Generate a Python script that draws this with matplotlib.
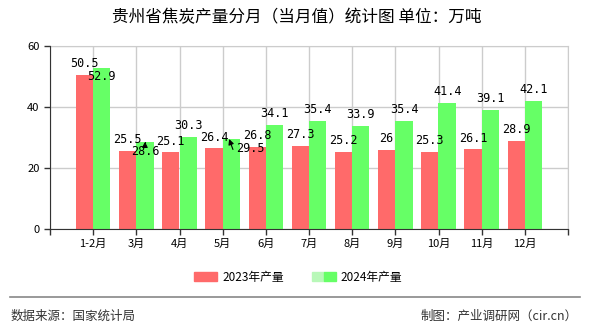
import numpy as np
import matplotlib
matplotlib.use('Agg')
import matplotlib.pyplot as plt
from matplotlib.patches import Patch
from matplotlib.legend_handler import HandlerTuple
plt.rcParams['font.family'] = ['Noto Sans CJK SC', 'DejaVu Sans']
plt.rcParams['axes.unicode_minus'] = False

months = ['1-2月', '3月', '4月', '5月', '6月', '7月', '8月', '9月', '10月', '11月', '12月']
y2023 = [50.5, 25.5, 25.1, 26.4, 26.8, 27.3, 25.2, 26, 25.3, 26.1, 28.9]
y2024 = [52.9, 28.6, 30.3, 29.5, 34.1, 35.4, 33.9, 35.4, 41.4, 39.1, 42.1]
yticks = [0, 20, 40, 60]

RED = '#FF6A6A'
GREEN = '#66FF66'
LIGHT_GREEN = '#B8F8B8'

fig = plt.figure(figsize=(5.9, 3.3), dpi=100)
ax = fig.add_axes([50/590, 1-229/330, 518/590, 183/330])

x = np.arange(len(months))
w = 0.4
ax.bar(x - w/2, y2023, w, color=RED, zorder=3)
ax.bar(x + w/2, y2024, w, color=GREEN, zorder=3)

ax.set_xlim(-1, len(months))
ax.set_ylim(0, 60)
ax.set_yticks(yticks)
ax.set_xticks(np.arange(-1, len(months) + 1))
ax.set_xticklabels([''] + months + [''])
ax.tick_params(axis='both', labelsize=8, length=4, width=1, color='#333333')
ax.tick_params(axis='x', pad=3)
ax.grid(True, color='#cccccc', linewidth=1, zorder=0)
for s in ['top', 'right']:
    ax.spines[s].set_color('#cccccc')
for s in ['left', 'bottom']:
    ax.spines[s].set_color('#333333')
    ax.spines[s].set_zorder(4)

lbl = dict(fontsize=8.5, family=['DejaVu Sans Mono'], zorder=5)
for i, v in enumerate(y2023):
    ax.annotate(str(v), (x[i] - w/2, v), xytext=(0, 3.5), textcoords='offset points',
                ha='center', va='bottom', **lbl)
for i, v in enumerate(y2024):
    if i == 0:
        ax.annotate(str(v), (x[i] + w/2, v), xytext=(0, -1.5), textcoords='offset points',
                    ha='center', va='top', **lbl)
    elif i == 1:
        ax.annotate(str(v), (x[i] + w/2, v), xytext=(0, -7), textcoords='offset points',
                    ha='center', va='center', **lbl,
                    arrowprops=dict(arrowstyle='-|>', color='black', lw=0.8, relpos=(1, 1),
                                    connectionstyle='angle,angleA=0,angleB=90,rad=0',
                                    shrinkA=0, shrinkB=0, mutation_scale=8))
    elif i == 3:
        ax.annotate(str(v), (x[i] + w/2 - 0.05, v), xytext=(15, -6.5), textcoords='offset points',
                    ha='center', va='center', **lbl,
                    arrowprops=dict(arrowstyle='-|>', color='black', lw=0.8, relpos=(1, 0),
                                    connectionstyle='angle,angleA=0,angleB=110,rad=0',
                                    shrinkA=0, shrinkB=0, mutation_scale=8))
    else:
        ax.annotate(str(v), (x[i] + w/2, v), xytext=(0, 3.5), textcoords='offset points',
                    ha='center', va='bottom', **lbl)

fig.text(0.503, 1 - 18/330, '贵州省焦炭产量分月（当月值）统计图 单位：万吨',
         ha='center', va='center', fontsize=12)

h1 = Patch(color=RED)
h2 = (Patch(color=LIGHT_GREEN), Patch(color=GREEN))
fig.legend([h1, h2], ['2023年产量', '2024年产量'], loc='center',
           bbox_to_anchor=(0.505, 1 - 277/330), ncol=2, frameon=False, fontsize=8.5,
           handlelength=2.0, handleheight=0.9, handletextpad=0.4, columnspacing=2.4,
           handler_map={tuple: HandlerTuple(ndivide=None, pad=0)})

fig.add_artist(plt.Line2D([10/590, 580/590], [1 - 297/330, 1 - 297/330],
                          color='#888888', lw=1.2))
fig.text(11/590, 1 - 316/330, '数据来源：国家统计局', ha='left', va='center',
         fontsize=9, color='#333333')
fig.text(578/590, 1 - 316/330, '制图：产业调研网（cir.cn）', ha='right', va='center',
         fontsize=9, color='#333333')

fig.savefig('out.png', dpi=100)
